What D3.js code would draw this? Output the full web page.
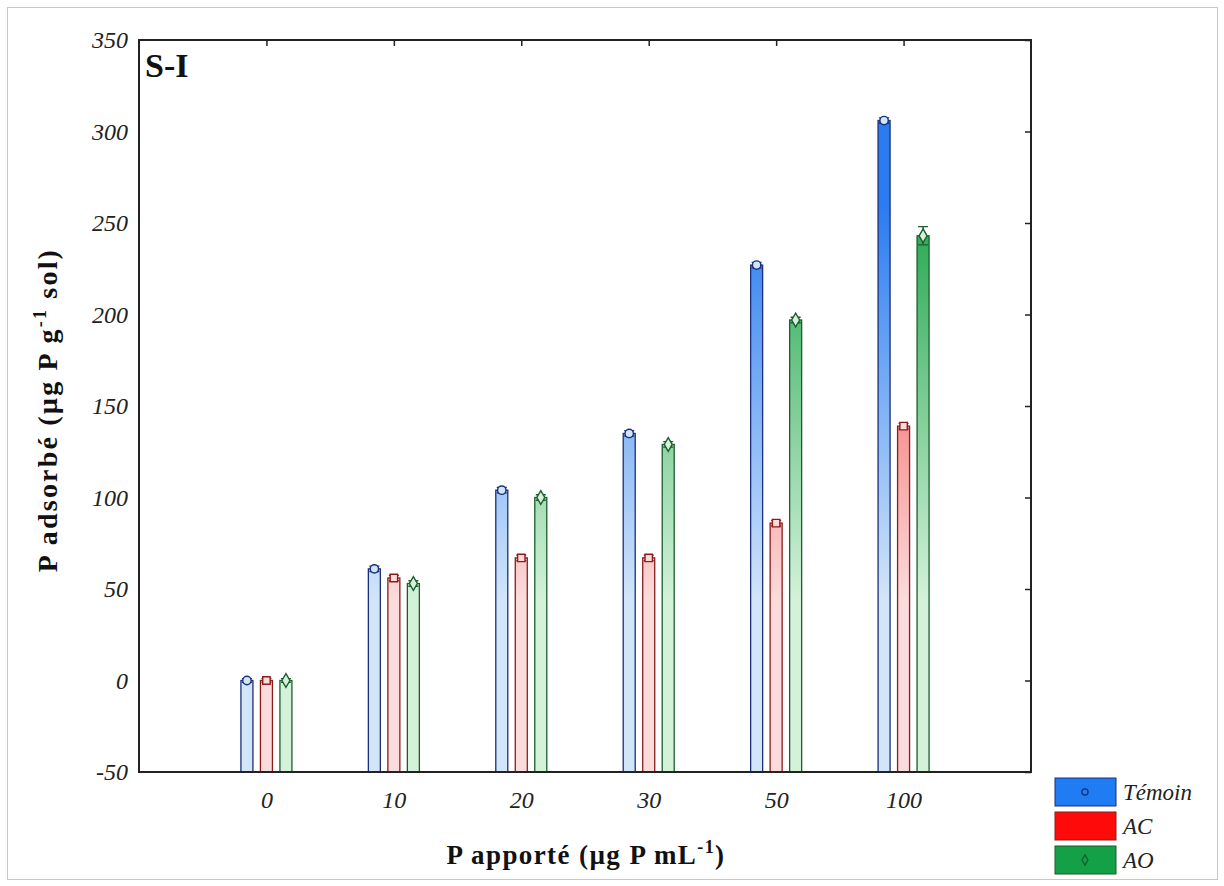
<!DOCTYPE html>
<html>
<head>
<meta charset="utf-8">
<script src="https://cdn.jsdelivr.net/npm/d3@7"></script>
<style>
  body { margin: 0; background: #fff; }
  text { font-family: 'Liberation Serif', 'Times New Roman', serif; }
</style>
</head>
<body>
<script>
var width = 1224,
  height = 886

var categories = ['0', '10', '20', '30', '50', '100']
var seriesNames = ['Témoin', 'AC', 'AO']
var temoin = [0, 61, 104, 135, 227, 306]
var ac = [0, 56, 67, 67, 86, 139]
var ao = [0, 53, 100, 129, 197, 243]
var temoinErr = [1, 1.5, 1.5, 1.5, 1.5, 1.5]
var acErr = [1, 1.5, 1.5, 1.5, 1.5, 1.5]
var aoErr = [1, 1.5, 1.5, 1.5, 1.5, 5]
var yTicks = [-50, 0, 50, 100, 150, 200, 250, 300, 350]

var series = [
  {name: seriesNames[0], values: temoin, err: temoinErr, light: '#d2e6fa', dark: '#2a7cf0', stroke: '#1b2f7a', legend: '#1f7cf2', marker: 'circle'},
  {name: seriesNames[1], values: ac, err: acErr, light: '#fbdcdc', dark: '#f03c3c', stroke: '#8a1c1c', legend: '#ff0a0a', marker: 'square'},
  {name: seriesNames[2], values: ao, err: aoErr, light: '#d4f2da', dark: '#22a64e', stroke: '#1d5c2c', legend: '#14a046', marker: 'diamond'}
]

var plot = {left: 139, top: 40, right: 1031, bottom: 772}

var svg = d3.select('body').append('svg')
  .attr('width', width)
  .attr('height', height)

// outer frame
svg.append('rect')
  .attr('x', 7.5).attr('y', 7.5)
  .attr('width', 1210).attr('height', 872)
  .attr('fill', 'none')
  .attr('stroke', '#c8c8c8')

var x = d3.scaleLinear().domain([0, 7]).range([plot.left, plot.right])
var y = d3.scaleLinear().domain([-50, 350]).range([plot.bottom, plot.top])
var offset = d3.scalePoint().domain(seriesNames).range([-19.5, 19.5])
var barW = 12

var defs = svg.append('defs')
series.forEach(function (s, i) {
  var g = defs.append('linearGradient')
    .attr('id', 'grad' + i)
    .attr('gradientUnits', 'userSpaceOnUse')
    .attr('x1', 0).attr('x2', 0)
    .attr('y1', y(-50)).attr('y2', y(260))
  g.append('stop').attr('offset', '0%').attr('stop-color', s.light)
  g.append('stop').attr('offset', '30%').attr('stop-color', s.light)
  g.append('stop').attr('offset', '100%').attr('stop-color', s.dark)
})

// bars
series.forEach(function (s, i) {
  var g = svg.append('g')
  g.selectAll('rect')
    .data(s.values)
    .enter().append('rect')
    .attr('x', function (d, j) { return x(j + 1) + offset(s.name) - barW / 2 })
    .attr('y', function (d) { return y(d) })
    .attr('width', barW)
    .attr('height', function (d) { return y(-50) - y(d) })
    .attr('fill', 'url(#grad' + i + ')')
    .attr('stroke', s.stroke)
    .attr('stroke-width', 1.3)

  // error bars
  g.selectAll('path.err')
    .data(s.values)
    .enter().append('path')
    .attr('class', 'err')
    .attr('d', function (d, j) {
      var cx = x(j + 1) + offset(s.name)
      var t = y(d + s.err[j]), b = y(d - s.err[j])
      return 'M' + (cx - 5) + ',' + t + 'H' + (cx + 5) + 'M' + cx + ',' + t + 'V' + b + 'M' + (cx - 5) + ',' + b + 'H' + (cx + 5)
    })
    .attr('stroke', s.stroke)
    .attr('stroke-width', 1.3)
    .attr('fill', 'none')

  var sym = s.marker === 'circle' ? d3.symbolCircle : (s.marker === 'square' ? d3.symbolSquare : d3.symbolDiamond)
  g.selectAll('path.mk')
    .data(s.values)
    .enter().append('path')
    .attr('class', 'mk')
    .attr('transform', function (d, j) { return 'translate(' + (x(j + 1) + offset(s.name)) + ',' + y(d) + ')' })
    .attr('d', d3.symbol().type(sym).size(55))
    .attr('fill', s.light)
    .attr('stroke', s.stroke)
    .attr('stroke-width', 1.4)
})

// plot frame
svg.append('rect')
  .attr('x', plot.left).attr('y', plot.top)
  .attr('width', plot.right - plot.left).attr('height', plot.bottom - plot.top)
  .attr('fill', 'none')
  .attr('stroke', '#222')
  .attr('stroke-width', 2)

// right axis ticks (inside)
svg.append('g')
  .attr('transform', 'translate(' + plot.right + ',0)')
  .call(d3.axisLeft(y).tickValues(yTicks).tickSize(6).tickFormat(''))
  .call(function (g) { g.select('.domain').remove() })
  .selectAll('line').attr('stroke', '#222').attr('stroke-width', 1.5)

// top axis ticks (inside)
svg.append('g')
  .attr('transform', 'translate(0,' + plot.top + ')')
  .call(d3.axisBottom(x).tickValues(d3.range(1, 7)).tickSize(6).tickFormat(''))
  .call(function (g) { g.select('.domain').remove() })
  .selectAll('line').attr('stroke', '#222').attr('stroke-width', 1.5)

// y tick labels
svg.append('g')
  .attr('transform', 'translate(' + plot.left + ',0)')
  .call(d3.axisLeft(y).tickValues(yTicks).tickSize(0).tickPadding(11)
    .tickFormat(function (d) { return String(d) }))
  .call(function (g) { g.select('.domain').remove() })
  .selectAll('text')
  .attr('font-size', 24)
  .attr('font-style', 'italic')
  .attr('font-family', "'Liberation Serif', serif")
  .attr('fill', '#222')

// x tick labels
svg.append('g')
  .attr('transform', 'translate(0,' + plot.bottom + ')')
  .call(d3.axisBottom(x).tickValues(d3.range(1, 7)).tickSize(0).tickPadding(19)
    .tickFormat(function (d) { return categories[d - 1] }))
  .call(function (g) { g.select('.domain').remove() })
  .selectAll('text')
  .attr('font-size', 24)
  .attr('font-style', 'italic')
  .attr('font-family', "'Liberation Serif', serif")
  .attr('fill', '#222')

// panel title
svg.append('text')
  .attr('x', 145).attr('y', 77)
  .attr('font-size', 34)
  .attr('font-weight', 'bold')
  .attr('fill', '#111')
  .text('S-I')

// axis titles
var yl = svg.append('text')
  .attr('transform', 'translate(57,410) rotate(-90)')
  .attr('text-anchor', 'middle')
  .attr('font-size', 28)
  .attr('font-weight', 'bold')
  .attr('letter-spacing', 2.2)
  .attr('fill', '#111')
yl.append('tspan').text('P adsorbé (µg P g')
yl.append('tspan').attr('dy', -11).attr('font-size', 18).text('-1')
yl.append('tspan').attr('dy', 11).text(' sol)')

var xl = svg.append('text')
  .attr('x', 586).attr('y', 864)
  .attr('text-anchor', 'middle')
  .attr('font-size', 27)
  .attr('font-weight', 'bold')
  .attr('letter-spacing', 1.4)
  .attr('fill', '#111')
xl.append('tspan').text('P apporté (µg P mL')
xl.append('tspan').attr('dy', -11).attr('font-size', 18).text('-1')
xl.append('tspan').attr('dy', 11).text(')')

// legend
var legend = svg.append('g')
  .attr('transform', 'translate(1055,778)')
var item = legend.selectAll('g')
  .data(series)
  .enter().append('g')
  .attr('transform', function (d, i) { return 'translate(0,' + i * 34 + ')' })
item.append('rect')
  .attr('width', 61).attr('height', 28)
  .attr('fill', function (d) { return d.legend })
  .attr('stroke', function (d) { return d.stroke })
  .attr('stroke-width', 1)
item.filter(function (d) { return d.marker !== 'square' }).append('path')
  .attr('transform', 'translate(30,14)')
  .attr('d', function (d) {
    return d3.symbol().type(d.marker === 'circle' ? d3.symbolCircle : d3.symbolDiamond).size(30)()
  })
  .attr('fill', 'none')
  .attr('stroke', function (d) { return d.stroke })
  .attr('stroke-width', 1.3)
item.append('text')
  .attr('x', 68).attr('y', 22)
  .attr('font-size', 23)
  .attr('font-style', 'italic')
  .attr('fill', '#222')
  .text(function (d) { return d.name })
</script>
</body>
</html>
